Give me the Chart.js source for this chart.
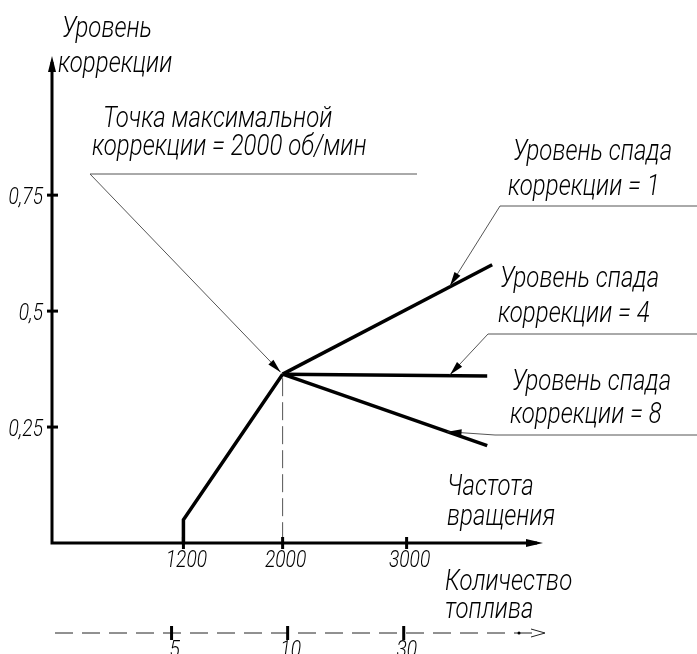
<!DOCTYPE html>
<html>
<head>
<meta charset="utf-8">
<script src="https://cdn.jsdelivr.net/npm/chart.js@4"></script>
<style>
  body { margin: 0; background: #fff; }
  #wrap { width: 697px; height: 654px; }
</style>
</head>
<body>
<div id="wrap"><canvas id="chart"></canvas></div>
<script>
// Chart values

const rpmTicks = [1200, 2000, 3000],
      levelTicks = [0.25, 0.5, 0.75],
      fuelTicks = ['5', '10', '30'];

const riseRpm = [1200, 1200, 2000],
      riseLevel = [0, 0.05, 0.364];

const fall1Rpm = [2000, 3690],
      fall1Level = [0.364, 0.60],
      fall4Rpm = [2000, 3650],
      fall4Level = [0.364, 0.36],
      fall8Rpm = [2000, 3650],
      fall8Level = [0.364, 0.21];

// Functions

const SX = 0.8;
const FONT = 'Roboto';

function pts(xs, ys) {
    return xs.map((x, i) => ({x: x, y: ys[i]}));
}

function txt(ctx, s, x, y, size, align) {
    ctx.save();
    ctx.translate(x, y);
    ctx.scale(SX, 1);
    ctx.font = 'italic 300 ' + size + 'px ' + FONT;
    ctx.fillStyle = '#000';
    ctx.textAlign = align || 'left';
    ctx.textBaseline = 'alphabetic';
    ctx.fillText(s, 0, 0);
    ctx.restore();
}

function arrowHead(ctx, fx, fy, tx, ty, len, half, filled) {
    const a = Math.atan2(ty - fy, tx - fx);
    const bx = tx - len * Math.cos(a), by = ty - len * Math.sin(a);
    const px = -Math.sin(a) * half, py = Math.cos(a) * half;
    ctx.beginPath();
    ctx.moveTo(bx + px, by + py);
    ctx.lineTo(tx, ty);
    ctx.lineTo(bx - px, by - py);
    if (filled) {
        ctx.closePath();
        ctx.fill();
    } else {
        ctx.stroke();
    }
}

// point on a straight segment of the data at a given rpm
function onLine(xs, ys, rpm) {
    const t = (rpm - xs[0]) / (xs[1] - xs[0]);
    return ys[0] + t * (ys[1] - ys[0]);
}

function leader(ctx, pts, tip) {
    ctx.save();
    ctx.strokeStyle = '#555';
    ctx.lineWidth = 1;
    ctx.beginPath();
    ctx.moveTo(pts[0][0], pts[0][1]);
    for (let i = 1; i < pts.length; i++) ctx.lineTo(pts[i][0], pts[i][1]);
    ctx.lineTo(tip[0], tip[1]);
    ctx.stroke();
    ctx.fillStyle = '#000';
    const last = pts[pts.length - 1];
    arrowHead(ctx, last[0], last[1], tip[0], tip[1], 14, 3.5, true);
    ctx.restore();
}

// Drawing plugin: axes, ticks, labels, leaders

const drawing = {
    id: 'drawing',
    afterDatasetsDraw(chart) {
        const ctx = chart.ctx,
              x = chart.scales.x,
              y = chart.scales.y,
              f = chart.scales.fuel,
              ca = chart.chartArea;

        ctx.save();
        ctx.lineCap = 'butt';

        // dashed drop line from peak
        const px = x.getPixelForValue(riseRpm[2]), py = y.getPixelForValue(riseLevel[2]);
        ctx.strokeStyle = '#555';
        ctx.lineWidth = 1;
        ctx.setLineDash([18, 6]);
        ctx.beginPath();
        ctx.moveTo(px, py + 4);
        ctx.lineTo(px, ca.bottom);
        ctx.stroke();
        ctx.setLineDash([]);

        // main axes
        ctx.strokeStyle = '#000';
        ctx.fillStyle = '#000';
        ctx.lineWidth = 3;
        ctx.beginPath();
        ctx.moveTo(ca.left, ca.top + 6);
        ctx.lineTo(ca.left, ca.bottom);
        ctx.lineTo(ca.right - 6, ca.bottom);
        ctx.stroke();
        arrowHead(ctx, ca.left, ca.bottom, ca.left, ca.top, 16, 4, true);
        arrowHead(ctx, ca.left, ca.bottom, ca.right, ca.bottom, 17, 4, true);

        // y ticks
        levelTicks.forEach(v => {
            const ty = y.getPixelForValue(v);
            ctx.beginPath();
            ctx.moveTo(ca.left - 5, ty);
            ctx.lineTo(ca.left + 6, ty);
            ctx.stroke();
            txt(ctx, String(v).replace('.', ','), ca.left - 9, ty + 9, 24, 'right');
        });

        // x ticks
        rpmTicks.forEach(v => {
            const tx = x.getPixelForValue(v);
            ctx.beginPath();
            ctx.moveTo(tx, ca.bottom - 6);
            ctx.lineTo(tx, ca.bottom + 6);
            ctx.stroke();
            txt(ctx, String(v), tx + 3, ca.bottom + 24, 24, 'center');
        });

        // fuel axis (dashed)
        const fy = 633;
        ctx.lineWidth = 1;
        ctx.strokeStyle = '#222';
        ctx.setLineDash([18, 9]);
        ctx.beginPath();
        ctx.moveTo(ca.left + 3, fy);
        ctx.lineTo(ca.right - 2, fy);
        ctx.stroke();
        ctx.setLineDash([]);
        arrowHead(ctx, ca.right - 16, fy, ca.right + 2, fy, 14, 4, false);
        ctx.beginPath();
        ctx.arc(ca.right - 24, fy, 1.5, 0, Math.PI * 2);
        ctx.fill();
        ctx.lineWidth = 3;
        ctx.strokeStyle = '#000';
        fuelTicks.forEach((s, i) => {
            const tx = f.getPixelForValue(i + 1);
            ctx.beginPath();
            ctx.moveTo(tx, fy - 7);
            ctx.lineTo(tx, fy + 7);
            ctx.stroke();
            txt(ctx, s, tx + 3, fy + 24, 24, 'center');
        });

        // axis titles
        txt(ctx, 'Уровень', 62, 37, 30);
        txt(ctx, 'коррекции', 58, 72, 30);
        txt(ctx, 'Частота', 447, 495, 30);
        txt(ctx, 'вращения', 447, 525, 30);
        txt(ctx, 'Количество', 445, 590, 30);
        txt(ctx, 'топлива', 445, 618, 30);

        // annotations
        txt(ctx, 'Точка максимальной', 103, 127, 30);
        txt(ctx, 'коррекции = 2000 об/мин', 92, 155, 30);
        leader(ctx, [[417, 174], [90, 174]], [px - 2, py - 2]);

        txt(ctx, 'Уровень спада', 513, 160, 30);
        txt(ctx, 'коррекции = 1', 508, 195, 30);
        const r1 = 3350;
        leader(ctx, [[697, 206], [500, 206]],
            [x.getPixelForValue(r1), y.getPixelForValue(onLine(fall1Rpm, fall1Level, r1)) - 1]);

        txt(ctx, 'Уровень спада', 500, 287, 30);
        txt(ctx, 'коррекции = 4', 498, 322, 30);
        const r4 = 3350;
        leader(ctx, [[697, 334], [488, 334]],
            [x.getPixelForValue(r4), y.getPixelForValue(onLine(fall4Rpm, fall4Level, r4)) - 1]);

        txt(ctx, 'Уровень спада', 512, 390, 30);
        txt(ctx, 'коррекции = 8', 510, 423, 30);
        const r8 = 3330;
        leader(ctx, [[697, 435], [495, 435]],
            [x.getPixelForValue(r8), y.getPixelForValue(onLine(fall8Rpm, fall8Level, r8))]);

        ctx.restore();
    }
};

// Chart

const lineStyle = {
    borderColor: '#000',
    borderWidth: 3.5,
    pointRadius: 0,
    fill: false,
    tension: 0,
    borderJoinStyle: 'miter'
};

const chart = new Chart(document.getElementById('chart'), {
    type: 'line',
    data: {
        datasets: [
            Object.assign({label: 'rise', data: pts(riseRpm, riseLevel)}, lineStyle),
            Object.assign({label: 'spad 1', data: pts(fall1Rpm, fall1Level)}, lineStyle),
            Object.assign({label: 'spad 4', data: pts(fall4Rpm, fall4Level)}, lineStyle),
            Object.assign({label: 'spad 8', data: pts(fall8Rpm, fall8Level)}, lineStyle)
        ]
    },
    options: {
        responsive: true,
        maintainAspectRatio: false,
        animation: false,
        layout: {
            padding: {left: 52, right: 154, top: 56, bottom: 111}
        },
        plugins: {
            legend: {display: false},
            tooltip: {enabled: false}
        },
        scales: {
            x: {type: 'linear', min: 140, max: 4100, display: false},
            y: {type: 'linear', min: 0, max: 1.05, display: false},
            fuel: {type: 'linear', axis: 'x', min: -0.03, max: 4.2, display: false}
        }
    },
    plugins: [drawing]
});
</script>
</body>
</html>
